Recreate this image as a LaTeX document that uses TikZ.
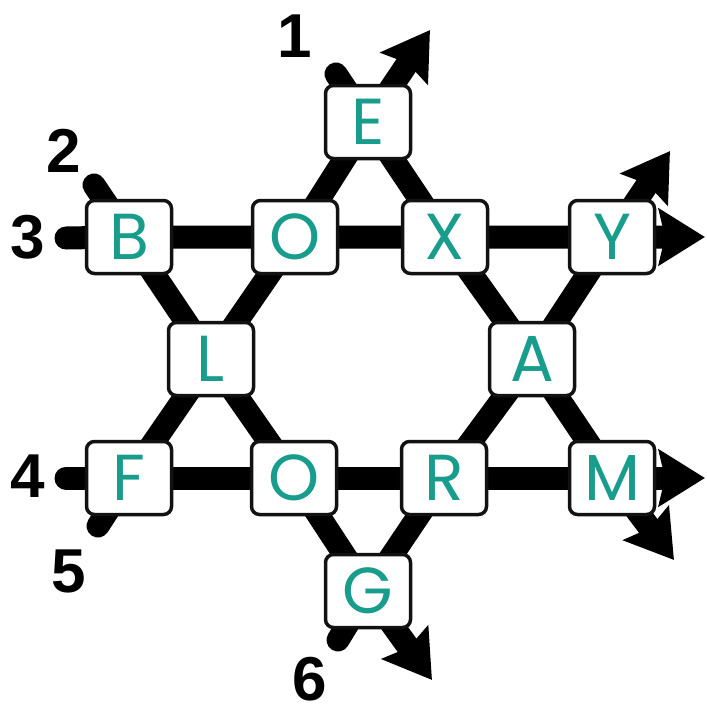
\documentclass[tikz,border=0pt]{standalone}
\usepackage{fontspec}
\newfontfamily\boxfont{Poppins}
\newfontfamily\numfont{Liberation Sans}
\usetikzlibrary{arrows.meta,backgrounds}
\definecolor{tealtxt}{RGB}{24,156,140}
\definecolor{boxedge}{RGB}{18,18,18}
\tikzset{
  lbox/.style={draw=boxedge, line width=3.5pt, fill=white, rounded corners=8pt,
    minimum width=85pt, minimum height=73pt, inner sep=0pt,
    font=\boxfont\fontsize{65}{65}\selectfont, text=tealtxt},
  numlbl/.style={font=\numfont\bfseries\fontsize{62}{62}\selectfont, inner sep=0pt},
  wire/.style={line width=23pt, line cap=round, line join=round,
    -{Stealth[length=46pt,width=56pt,inset=6pt]}},
}
\begin{document}
\begin{tikzpicture}[x=1pt,y=-1pt]
\useasboundingbox (0,0) rectangle (707,710);
% boxes
\node[lbox] (E)  at (368,122) {E};
\node[lbox] (B)  at (129,237) {B};
\node[lbox] (O1) at (295,237) {O};
\node[lbox] (X)  at (445,237) {X};
\node[lbox] (Y)  at (612,237) {Y};
\node[lbox] (L)  at (211,359) {L};
\node[lbox] (A)  at (532,359) {A};
\node[lbox] (F)  at (129,478) {F};
\node[lbox] (O2) at (294,478) {O};
\node[lbox] (R)  at (444,478) {R};
\node[lbox] (M)  at (612,478) {M};
\node[lbox] (G)  at (368,591) {G};
% free ends
\coordinate (s1) at (336,74);   \coordinate (t1) at (674,560);
\coordinate (s2) at (94,185);   \coordinate (t2) at (432,680);
\coordinate (s3) at (66,238);   \coordinate (t3) at (705,237);
\coordinate (s4) at (66,478);   \coordinate (t4) at (705,478);
\coordinate (s5) at (98,526);   \coordinate (t5) at (430,30);
\coordinate (s6) at (338,640);  \coordinate (t6) at (670,151);
% numbers
\node[numlbl] (n1) at (295,36)  {1};
\node[numlbl] (n2) at (64,151)  {2};
\node[numlbl] (n3) at (28,237)  {3};
\node[numlbl] (n4) at (28,476)  {4};
\node[numlbl] (n5) at (69,571)  {5};
\node[numlbl] (n6) at (310,679) {6};
\begin{pgfonlayer}{background}
\draw[wire] (s1) -- (E.center) -- (X.center) -- (A.center) -- (M.center) -- (t1);
\draw[wire] (s2) -- (B.center) -- (L.center) -- (O2.center) -- (G.center) -- (t2);
\draw[wire] (s3) -- (B.center) -- (O1.center) -- (X.center) -- (Y.center) -- (t3);
\draw[wire] (s4) -- (F.center) -- (O2.center) -- (R.center) -- (M.center) -- (t4);
\draw[wire] (s5) -- (F.center) -- (L.center) -- (O1.center) -- (E.center) -- (t5);
\draw[wire] (s6) -- (G.center) -- (R.center) -- (A.center) -- (Y.center) -- (t6);
\end{pgfonlayer}
\end{tikzpicture}
\end{document}
